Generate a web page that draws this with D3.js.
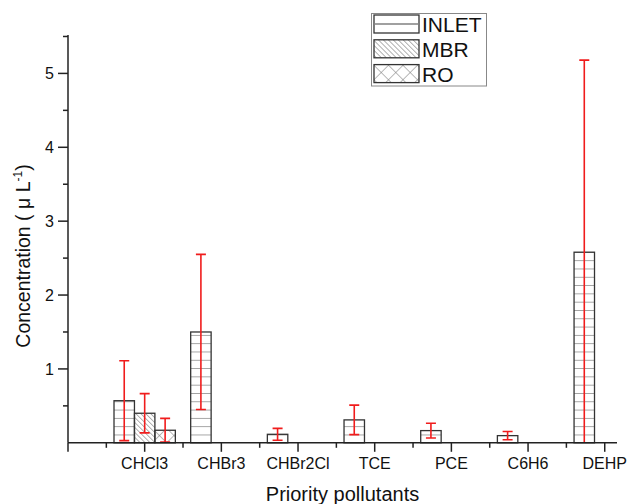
<!DOCTYPE html>
<html>
<head>
<meta charset="utf-8">
<script src="https://cdn.jsdelivr.net/npm/d3@7"></script>
<style>
  body { margin: 0; background: #fff; }
  text { font-family: "Liberation Sans", Arial, sans-serif; fill: #111; }
</style>
</head>
<body>
<div id="chart"></div>
<script>
const width = 627, height = 504;

// data
const categories = ["CHCl3", "CHBr3", "CHBr2Cl", "TCE", "PCE", "C6H6", "DEHP"];
const series = ["INLET", "MBR", "RO"];
const inletValues = [0.57, 1.50, 0.115, 0.31, 0.165, 0.097, 2.58];
const inletErrors = [0.54, 1.05, 0.08, 0.20, 0.10, 0.055, 2.60];
const mbrValues = [0.40, null, null, null, null, null, null];
const mbrErrors = [0.265, null, null, null, null, null, null];
const roValues = [0.17, null, null, null, null, null, null];
const roErrors = [0.16, null, null, null, null, null, null];
const yMajorTicks = [1, 2, 3, 4, 5];
const yMinorTicks = [0.5, 1.5, 2.5, 3.5, 4.5, 5.5];

const values = { INLET: inletValues, MBR: mbrValues, RO: roValues };
const errors = { INLET: inletErrors, MBR: mbrErrors, RO: roErrors };

const svg = d3.select("#chart").append("svg")
    .attr("width", width)
    .attr("height", height);

// hatch patterns
const defs = svg.append("defs");
const hatch = "#808080";

const pIn = defs.append("pattern").attr("id", "p-INLET")
    .attr("patternUnits", "userSpaceOnUse")
    .attr("width", 10).attr("height", 8.3)
    .attr("y", 442.8 % 8.3);
pIn.append("line").attr("x1", 0).attr("x2", 10).attr("y1", 0).attr("y2", 0)
    .attr("stroke", hatch).attr("stroke-width", 1.4);

const pMbr = defs.append("pattern").attr("id", "p-MBR")
    .attr("patternUnits", "userSpaceOnUse")
    .attr("width", 10).attr("height", 3.5)
    .attr("patternTransform", "rotate(45)");
pMbr.append("line").attr("x1", 0).attr("x2", 10).attr("y1", 0).attr("y2", 0)
    .attr("stroke", hatch).attr("stroke-width", 1.2);

const pRo = defs.append("pattern").attr("id", "p-RO")
    .attr("patternUnits", "userSpaceOnUse")
    .attr("width", 10.25).attr("height", 10.25)
    .attr("patternTransform", "rotate(45)");
pRo.append("line").attr("x1", 0).attr("x2", 10.25).attr("y1", 0).attr("y2", 0)
    .attr("stroke", hatch).attr("stroke-width", 1.1);
pRo.append("line").attr("x1", 0).attr("x2", 0).attr("y1", 0).attr("y2", 10.25)
    .attr("stroke", hatch).attr("stroke-width", 1.1);

// scales
const x = d3.scaleLinear().domain([-1, 6.16]).range([68, 617]);
const y = d3.scaleLinear().domain([0, 5.52]).range([442.8, 35]);
const sub = d3.scaleBand().domain(series).range([-0.4, 0.4]);
const unit = x(1) - x(0);

defs.append("clipPath").attr("id", "plotClip")
    .append("rect")
    .attr("x", x(-1)).attr("y", y(5.52) - 5)
    .attr("width", x(6.16) - x(-1)).attr("height", y(0) - y(5.52) + 5);

// bars
const barData = [];
series.forEach(s => {
    categories.forEach((c, i) => {
        if (values[s][i] != null) {
            barData.push({ s: s, i: i, v: values[s][i], e: errors[s][i] });
        }
    });
});

const bars = svg.append("g");
bars.selectAll("rect")
    .data(barData)
    .join("rect")
    .attr("x", d => x(d.i + sub(d.s)))
    .attr("y", d => y(d.v))
    .attr("width", sub.bandwidth() * unit)
    .attr("height", d => y(0) - y(d.v))
    .attr("fill", d => "url(#p-" + d.s + ")")
    .attr("stroke", "#333")
    .attr("stroke-width", 1.3);

// error bars
const errG = svg.append("g").attr("clip-path", "url(#plotClip)")
    .attr("stroke", "#f01c1c").attr("stroke-width", 1.6);
const cx = d => x(d.i + sub(d.s) + sub.bandwidth() / 2);
errG.selectAll(".stem").data(barData).join("line")
    .attr("x1", cx).attr("x2", cx)
    .attr("y1", d => y(d.v + d.e)).attr("y2", d => y(d.v - d.e));
errG.selectAll(".capTop").data(barData).join("line")
    .attr("x1", d => cx(d) - 5).attr("x2", d => cx(d) + 5)
    .attr("y1", d => y(d.v + d.e)).attr("y2", d => y(d.v + d.e));
errG.selectAll(".capBot").data(barData).join("line")
    .attr("x1", d => cx(d) - 5).attr("x2", d => cx(d) + 5)
    .attr("y1", d => y(d.v - d.e)).attr("y2", d => y(d.v - d.e));

// y axis
const yAxis = svg.append("g").attr("transform", `translate(${x(-1)},0)`);
yAxis.append("line").attr("x1", 0).attr("x2", 0)
    .attr("y1", y(5.52)).attr("y2", y(0))
    .attr("stroke", "#222").attr("stroke-width", 1.5);
yAxis.selectAll(".major").data(yMajorTicks).join("line")
    .attr("x1", -10).attr("x2", 0)
    .attr("y1", d => y(d)).attr("y2", d => y(d))
    .attr("stroke", "#222").attr("stroke-width", 1.5);
yAxis.selectAll(".minor").data(yMinorTicks).join("line")
    .attr("x1", -5).attr("x2", 0)
    .attr("y1", d => y(d)).attr("y2", d => y(d))
    .attr("stroke", "#222").attr("stroke-width", 1.5);
yAxis.selectAll("text").data(yMajorTicks).join("text")
    .attr("x", -14).attr("y", d => y(d))
    .attr("dy", "0.35em")
    .attr("text-anchor", "end")
    .attr("font-size", 16)
    .text(d => d);

// x axis
const xAxis = svg.append("g").attr("transform", `translate(0,${y(0)})`);
xAxis.append("line").attr("x1", x(-1)).attr("x2", x(6.16))
    .attr("y1", 0).attr("y2", 0)
    .attr("stroke", "#222").attr("stroke-width", 1.5);
xAxis.selectAll(".major").data(d3.range(-1, 7)).join("line")
    .attr("x1", d => x(d)).attr("x2", d => x(d))
    .attr("y1", 0).attr("y2", 9)
    .attr("stroke", "#222").attr("stroke-width", 1.5);
xAxis.selectAll(".minor").data(d3.range(-0.5, 6, 1)).join("line")
    .attr("x1", d => x(d)).attr("x2", d => x(d))
    .attr("y1", 0).attr("y2", 5)
    .attr("stroke", "#222").attr("stroke-width", 1.5);
xAxis.selectAll("text").data(categories).join("text")
    .attr("x", (d, i) => x(i)).attr("y", 26)
    .attr("text-anchor", "middle")
    .attr("font-size", 16)
    .text(d => d);

// axis titles
svg.append("text")
    .attr("x", (x(-1) + x(6.16)) / 2).attr("y", 501)
    .attr("text-anchor", "middle")
    .attr("font-size", 20)
    .text("Priority pollutants");

const yTitle = svg.append("text")
    .attr("transform", "translate(30,256) rotate(-90)")
    .attr("text-anchor", "middle")
    .attr("font-size", 19.5);
yTitle.append("tspan").text("Concentration ( \u03bc L");
yTitle.append("tspan").attr("font-size", 12).attr("dy", -8).text("-1");
yTitle.append("tspan").attr("dy", 8).text(")");

// legend
const legend = svg.append("g");
legend.append("rect")
    .attr("x", 371.5).attr("y", 13.5).attr("width", 115).attr("height", 72.5)
    .attr("fill", "#fff").attr("stroke", "#888").attr("stroke-width", 1);
const legendRows = legend.selectAll(".row").data(series).join("g")
    .attr("transform", (d, i) => `translate(374,${15 + i * 24.8})`);
legendRows.append("rect")
    .attr("width", 45).attr("height", 18)
    .attr("fill", d => d === "INLET" ? "#fff" : "url(#p-" + d + ")")
    .attr("stroke", "#333").attr("stroke-width", 1.3);
legendRows.filter(d => d === "INLET").append("line")
    .attr("x1", 0).attr("x2", 45).attr("y1", 9).attr("y2", 9)
    .attr("stroke", hatch).attr("stroke-width", 1.4);
legendRows.append("text")
    .attr("x", 48).attr("y", 17)
    .attr("font-size", 21)
    .text(d => d);
</script>
</body>
</html>
